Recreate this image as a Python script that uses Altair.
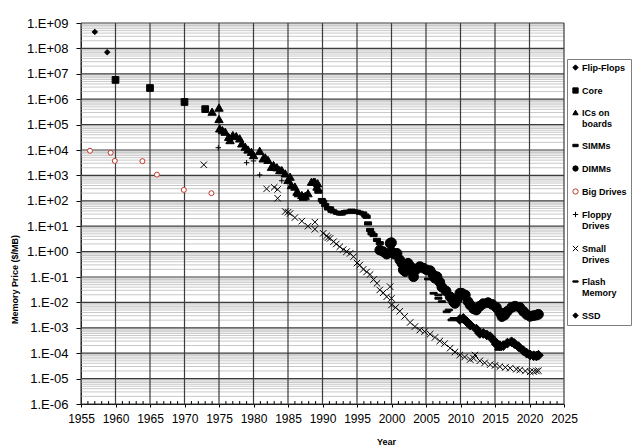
import altair as alt
import pandas as pd

# ---------------- data (year, log10 of $/MB) ----------------
series_names = ["Flip-Flops", "Core", "ICs on boards", "SIMMs", "DIMMs",
                "Big Drives", "Floppy Drives", "Small Drives", "Flash Memory", "SSD"]

flipflop_year = [1957.0, 1958.8]
flipflop_exp = [8.65, 7.85]

core_year = [1960.0, 1965.0, 1970.0, 1973.0]
core_exp = [6.76, 6.44, 5.89, 5.61]

ics_year = [1974.0, 1975.0, 1975.0, 1975.1, 1975.5, 1975.9, 1976.4, 1976.6, 1977.0, 1977.5,
            1978.0, 1978.3, 1978.8, 1979.2, 1979.7, 1980.0, 1980.9, 1981.4, 1981.7, 1982.1,
            1982.6, 1982.9, 1983.4, 1983.8, 1984.1, 1984.6, 1985.0, 1985.3, 1985.5, 1986.0,
            1986.3, 1986.5, 1987.0, 1987.2, 1987.5, 1987.9, 1988.4, 1988.7, 1988.9, 1989.2,
            1989.3]
ics_exp = [5.51, 5.67, 5.22, 4.85, 4.78, 4.72, 4.52, 4.39, 4.59, 4.55,
           4.46, 4.26, 4.13, 4.02, 3.93, 3.80, 3.97, 3.67, 3.71, 3.61,
           3.34, 3.41, 3.32, 3.21, 3.21, 3.08, 2.82, 2.95, 2.62, 2.56,
           2.36, 2.30, 2.23, 2.16, 2.20, 2.30, 2.75, 2.75, 2.75, 2.56,
           2.69]

simm_year = [1989.4, 1989.9, 1990.1, 1990.4, 1990.8, 1991.1, 1991.3, 1991.6, 1992.1, 1992.5,
             1992.8, 1993.2, 1993.5, 1994.0, 1994.2, 1994.6, 1995.0, 1995.4, 1995.9, 1996.2,
             1996.4, 1996.6, 1996.9, 1997.1, 1997.4, 1997.9, 1998.3, 1998.6]
simm_exp = [2.36, 2.03, 1.96, 1.83, 1.70, 1.70, 1.61, 1.58, 1.53, 1.50,
            1.50, 1.55, 1.57, 1.57, 1.61, 1.58, 1.57, 1.53, 1.50, 1.42,
            1.37, 1.11, 0.85, 0.72, 0.65, 0.46, 0.33, 0.06]

dimm_year = [1998.3, 1998.8, 1999.3, 1999.8, 2000.0, 2000.0, 2000.4, 2000.8, 2001.2, 2001.5,
             2001.7, 2002.0, 2002.4, 2002.8, 2003.2, 2003.2, 2003.6, 2004.1, 2004.6, 2005.1,
             2005.6, 2006.0, 2006.3, 2006.6, 2007.0, 2007.3, 2007.9, 2008.5, 2009.0, 2009.2,
             2009.6, 2009.9, 2010.2, 2010.7, 2011.1, 2011.4, 2011.9, 2012.3, 2012.8, 2013.3,
             2014.0, 2014.6, 2015.2, 2015.7, 2016.0, 2016.4, 2016.8, 2017.4, 2017.9, 2018.6,
             2019.1, 2019.6, 2020.1, 2020.6, 2021.0, 2021.3]
dimm_exp = [0.06, 0.00, -0.10, 0.33, 0.35, 0.00, -0.10, -0.07, -0.33, -0.46,
            -0.72, -0.79, -0.46, -0.60, -0.79, -0.99, -0.70, -0.59, -0.65, -0.72,
            -0.75, -0.90, -1.05, -0.99, -1.20, -1.40, -1.55, -1.78, -1.98, -2.04,
            -1.85, -1.64, -1.64, -1.71, -1.97, -2.10, -2.25, -2.30, -2.15, -2.05,
            -2.01, -2.08, -2.20, -2.40, -2.56, -2.50, -2.35, -2.20, -2.15, -2.20,
            -2.35, -2.48, -2.55, -2.52, -2.50, -2.47]

bigdrive_year = [1956.3, 1959.3, 1959.9, 1963.9, 1966.0, 1969.9, 1973.9]
bigdrive_exp = [3.97, 3.89, 3.57, 3.56, 3.03, 2.43, 2.30]

floppy_year = [1974.9, 1979.0, 1980.0, 1980.9, 1984.1]
floppy_exp = [4.09, 3.50, 3.57, 3.02, 2.79]

small_year = [1972.8, 1981.9, 1983.0, 1983.5, 1983.5, 1984.6, 1985.0, 1985.3, 1986.0, 1987.0,
              1987.9, 1988.9, 1988.9, 1990.1, 1990.6, 1990.8, 1991.1, 1991.6, 1992.0, 1992.5,
              1993.0, 1993.5, 1994.0, 1994.5, 1995.0, 1995.4, 1995.9, 1996.4, 1996.9, 1997.4,
              1997.9, 1998.3, 1998.8, 1999.3, 1999.8, 2000.0, 2000.0, 2000.6, 2001.2, 2001.9,
              2002.7, 2003.4, 2004.1, 2004.8, 2005.6, 2006.3, 2007.0, 2007.7, 2008.5, 2009.2,
              2009.9, 2010.6, 2011.4, 2011.9, 2012.1, 2012.8, 2013.5, 2014.3, 2015.0, 2015.7,
              2016.5, 2017.2, 2018.1, 2018.6, 2019.4, 2020.1, 2020.6, 2021.0, 2021.3]
small_exp = [3.42, 2.47, 2.53, 2.45, 2.10, 1.58, 1.55, 1.50, 1.34, 1.20,
             1.00, 1.16, 0.88, 0.72, 0.62, 0.55, 0.52, 0.39, 0.30, 0.19,
             0.08, 0.00, -0.07, -0.20, -0.45, -0.53, -0.70, -0.80, -0.90, -1.10,
             -1.25, -1.51, -1.62, -1.78, -1.38, -1.84, -2.10, -2.20, -2.35, -2.55,
             -2.79, -2.95, -3.09, -3.15, -3.25, -3.38, -3.52, -3.62, -3.80, -3.95,
             -4.07, -4.15, -4.25, -4.20, -4.07, -4.30, -4.38, -4.45, -4.48, -4.53,
             -4.56, -4.59, -4.63, -4.66, -4.70, -4.73, -4.72, -4.70, -4.69]

flash_year = [2005.3, 2006.1, 2006.8, 2006.8, 2007.3, 2008.0, 2008.3, 2008.7, 2009.0, 2009.7,
              2010.4, 2010.9, 2011.4, 2015.5]
flash_exp = [-1.08, -1.64, -1.71, -1.84, -1.97, -2.37, -2.30, -2.69, -2.63, -2.69,
             -2.63, -2.76, -2.89, -3.85]

ssd_year = [2009.9, 2010.4, 2010.9, 2011.4, 2012.3, 2012.8, 2013.3, 2013.8, 2014.3, 2015.0,
            2015.2, 2015.7, 2016.2, 2016.8, 2017.4, 2017.8, 2018.4, 2019.1, 2019.6, 2020.1,
            2020.6, 2021.0, 2021.3]
ssd_exp = [-2.67, -2.63, -2.76, -2.89, -3.05, -3.22, -3.22, -3.28, -3.35, -3.55,
           -3.65, -3.70, -3.70, -3.60, -3.55, -3.62, -3.74, -3.90, -4.00, -4.07,
           -4.10, -4.11, -4.08]

# axis tick values
year_ticks = [1955, 1960, 1965, 1970, 1975, 1980, 1985, 1990, 1995, 2000, 2005, 2010, 2015, 2020, 2025]
decade_ticks = [1e-6, 1e-5, 1e-4, 1e-3, 1e-2, 1e-1, 1e0, 1e1, 1e2, 1e3, 1e4, 1e5, 1e6, 1e7, 1e8, 1e9]
minor_values = [m * d for d in decade_ticks[:-1] for m in range(2, 10)]
minor_years = [y for y in range(1956, 2025) if y % 5 != 0]


def frame(name, years, exps):
    return pd.DataFrame({"year": years, "value": [10.0 ** e for e in exps], "series": name})


series_frames = [
    ("Big Drives", frame("Big Drives", bigdrive_year, bigdrive_exp)),
    ("Floppy Drives", frame("Floppy Drives", floppy_year, floppy_exp)),
    ("Small Drives", frame("Small Drives", small_year, small_exp)),
    ("Flash Memory", frame("Flash Memory", flash_year, flash_exp)),
    ("SSD", frame("SSD", ssd_year, ssd_exp)),
    ("Flip-Flops", frame("Flip-Flops", flipflop_year, flipflop_exp)),
    ("Core", frame("Core", core_year, core_exp)),
    ("ICs on boards", frame("ICs on boards", ics_year, ics_exp)),
    ("SIMMs", frame("SIMMs", simm_year, simm_exp)),
    ("DIMMs", frame("DIMMs", dimm_year, dimm_exp)),
]

# ---------------- styling ----------------
FONT = "Liberation Sans"
shapes = ["diamond", "square", "triangle-up", "M-1,-0.45H1V0.45H-1Z", "circle",
          "circle", "M-1,0H1M0,-1V1", "M-1,-1L1,1M-1,1L1,-1", "M-1,-0.25H1V0.25H-1Z", "diamond"]
fills = ["black", "black", "black", "black", "black",
         "white", "transparent", "transparent", "black", "black"]
strokes = ["black", "black", "black", "black", "black",
           "#c0392b", "black", "black", "black", "black"]
widths = [1, 1, 1, 0, 1, 1.5, 1, 1.4, 0, 1]
point_size = {"Flip-Flops": 30, "Core": 45, "ICs on boards": 70, "SIMMs": 50, "DIMMs": 95,
              "Big Drives": 25, "Floppy Drives": 30, "Small Drives": 42, "Flash Memory": 50,
              "SSD": 95}

label_expr = ("datum.label == 'ICs on boards' ? ['ICs on', 'boards'] : "
              "datum.label == 'Floppy Drives' ? ['Floppy', 'Drives'] : "
              "datum.label == 'Small Drives' ? ['Small', 'Drives'] : "
              "datum.label == 'Flash Memory' ? ['Flash', 'Memory'] : datum.label")

leg = alt.Legend(orient="none", legendX=486, legendY=36, strokeColor="#7f7f7f",
                 fillColor="white", padding=4, labelFont=FONT, labelFontWeight="bold",
                 labelFontSize=9, labelColor="black", labelOffset=2, rowPadding=12,
                 symbolSize=28, labelExpr=label_expr, labelLimit=200)

x_enc = alt.X("year:Q",
              scale=alt.Scale(domain=[1955, 2025], nice=False, zero=False),
              axis=alt.Axis(values=year_ticks, format="d", title="Year", grid=False,
                            tickSize=3, tickColor="black", domainColor="black",
                            labelFont=FONT, labelFontSize=12, labelColor="black",
                            labelPadding=6, labelFlush=False, labelOverlap=False,
                            titleFont=FONT, titleFontSize=9, titleFontWeight="bold",
                            titleColor="black", titleX=305, titleY=37,
                            titleBaseline="middle"))

y_label_expr = ("'1.E' + (datum.value < 1 ? '-' : '+') + "
                "(abs(round(log(datum.value) / LN10)) < 10 ? '0' : '') + "
                "abs(round(log(datum.value) / LN10))")

y_enc = alt.Y("value:Q",
              scale=alt.Scale(type="log", domain=[1e-6, 1e9], nice=False),
              axis=alt.Axis(values=decade_ticks, labelExpr=y_label_expr,
                            title="Memory Price ($/MB)", grid=False, tickSize=5,
                            tickColor="black", domainColor="black",
                            labelFont=FONT, labelFontSize=13, labelColor="black",
                            labelPadding=8, labelOverlap=False,
                            titleFont=FONT, titleFontSize=9, titleFontWeight="bold",
                            titleColor="black", titleX=-67, titleY=256,
                            titleBaseline="middle"))

minor_h = alt.Chart(pd.DataFrame({"value": minor_values})).mark_rule(
    color="#c8c8c8", strokeWidth=1).encode(y=y_enc)
major_h = alt.Chart(pd.DataFrame({"value": decade_ticks})).mark_rule(
    color="#3c3c3c", strokeWidth=1.2).encode(y=y_enc)
major_v = alt.Chart(pd.DataFrame({"year": year_ticks})).mark_rule(
    color="#3c3c3c", strokeWidth=1.2).encode(x=x_enc)
minor_ticks = alt.Chart(pd.DataFrame({"year": minor_years})).mark_rule(
    color="black", strokeWidth=1).encode(x=x_enc, y=alt.value(378), y2=alt.value(381))


def series_layer(name, df):
    return alt.Chart(df).mark_point(opacity=1, size=point_size[name]).encode(
        x=x_enc,
        y=y_enc,
        shape=alt.Shape("series:N", title=None, legend=leg,
                        scale=alt.Scale(domain=series_names, range=shapes)),
        fill=alt.Fill("series:N", title=None, legend=leg,
                      scale=alt.Scale(domain=series_names, range=fills)),
        stroke=alt.Stroke("series:N", title=None, legend=leg,
                          scale=alt.Scale(domain=series_names, range=strokes)),
        strokeWidth=alt.StrokeWidth("series:N", title=None, legend=leg,
                                    scale=alt.Scale(domain=series_names, range=widths)),
    )


point_layers = [series_layer(n, d) for n, d in series_frames]

chart = alt.layer(minor_h, major_h, major_v, minor_ticks, *point_layers).properties(
    width=483, height=381,
    autosize=alt.AutoSizeParams(type="none"),
    padding={"left": 73, "top": 15, "right": 68, "bottom": 42},
    background="white",
).configure_view(stroke=None)

chart.save("out.html", embed_options={"renderer": "svg", "actions": False})
